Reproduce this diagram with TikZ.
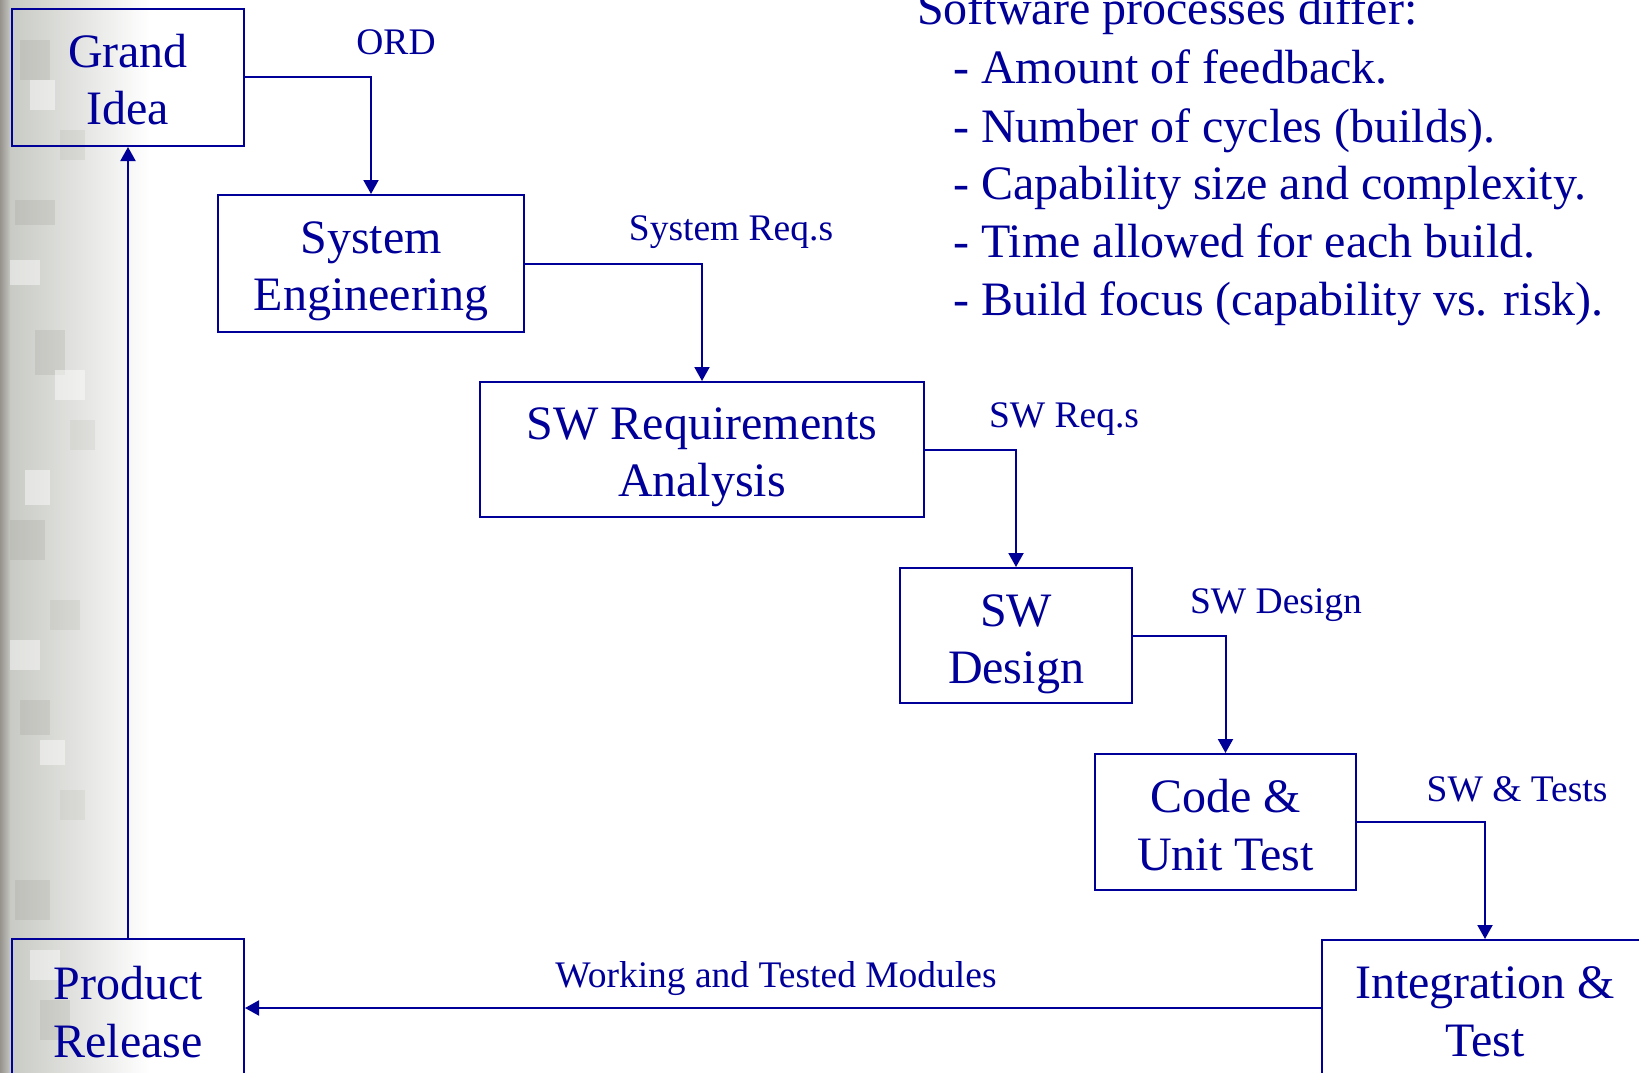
\documentclass[tikz,border=0pt]{standalone}
\usepackage{fontspec}
\setmainfont{Liberation Serif}
\usetikzlibrary{arrows.meta}
\definecolor{navy}{RGB}{0,0,153}
\definecolor{camoA}{RGB}{196,198,192}
\definecolor{camoB}{RGB}{150,146,140}
\tikzset{
  x=1pt, y=-1pt,
  boxshape/.style={draw=navy, line width=2pt, rectangle, inner sep=0pt},
  boxtext/.style={text=navy, align=center, inner sep=0pt, font=\fontsize{48}{57.5}\selectfont},
  lbl/.style={text=navy, inner sep=0pt, font=\fontsize{37.5}{40}\selectfont},
  itm/.style={text=navy, inner sep=0pt, anchor=base west, font=\fontsize{48}{58}\selectfont},
  flow/.style={draw=navy, line width=2pt, -{Triangle[length=14pt,width=15pt]}}
}
\begin{document}
\begin{tikzpicture}
\useasboundingbox (0,0) rectangle (1639,1073);
\fill[white] (0,0) rectangle (1639,1073);
% left camouflage strip
\shade[left color=camoA, right color=white] (0,0) rectangle (150,1073);
\shade[left color=camoB, right color=camoA] (0,0) rectangle (10,1073);
\foreach \xa/\ya/\w/\h/\o in {20/40/30/40/0.2, 60/130/25/30/0.15, 15/200/40/25/0.2, 35/330/30/45/0.2, 70/420/25/30/0.12,
  10/520/35/40/0.2, 50/600/30/30/0.15, 20/700/30/35/0.2, 60/790/25/30/0.12, 15/880/35/40/0.2, 40/1000/30/40/0.2}
  \fill[camoB, opacity=\o] (\xa,\ya) rectangle ++(\w,\h);
\foreach \xa/\ya/\w/\h in {30/80/25/30, 10/260/30/25, 55/370/30/30, 25/470/25/35, 10/640/30/30, 40/740/25/25, 30/950/30/30}
  \fill[white, opacity=0.45] (\xa,\ya) rectangle ++(\w,\h);

% boxes
\node[boxshape, minimum width=232pt, minimum height=137pt] (GI) at (128,77.5) {};
\node[boxshape, minimum width=306pt, minimum height=137pt] (SE) at (371,263.5) {};
\node[boxshape, minimum width=444pt, minimum height=135pt] (SR) at (702,449.5) {};
\node[boxshape, minimum width=232pt, minimum height=135pt] (SD) at (1016,635.5) {};
\node[boxshape, minimum width=261pt, minimum height=136pt] (CU) at (1225.5,822) {};
\node[boxshape, minimum width=326pt, minimum height=136pt] (IT) at (1485,1008) {};
\node[boxshape, minimum width=232pt, minimum height=138pt] (PR) at (128,1008) {};

\node[boxtext] (GIt) at ([yshift=-2pt]GI.center) {Grand\\Idea};
\node[boxtext] (SEt) at ([yshift=-8pt]SE.center) {System\\Engineering};
\node[boxtext] (SRt) at ([yshift=-8pt]SR.center) {SW Requirements\\Analysis};
\node[boxtext] (SDt) at ([yshift=-9pt]SD.center) {SW\\Design};
\node[boxtext] (CUt) at ([yshift=-3pt]CU.center) {Code \&\\Unit Test};
\node[boxtext] (ITt) at ([yshift=-4pt]IT.center) {Integration \&\\Test};
\node[boxtext] (PRt) at ([yshift=-4pt]PR.center) {Product\\Release};

% connectors
\draw[flow] (GI.east) -| (SE.north);
\draw[flow] (SE.east) -| (SR.north);
\draw[flow] (SR.east) -| (SD.north);
\draw[flow] (SD.east) -| (CU.north);
\draw[flow] (CU.east) -| (IT.north);
\draw[flow] (IT.west) -- (PR.east);
\draw[flow] (PR.north) -- (GI.south);

% labels
\node[lbl] (lORD) at (396,42) {ORD};
\node[lbl] (lSR) at (731,232) {System Req.s};
\node[lbl] (lSWR) at (1064,419) {SW Req.s};
\node[lbl] (lSD) at (1276,605) {SW Design};
\node[lbl] (lST) at (1517,789) {SW \& Tests};
\node[lbl] (lWM) at (776,979) {Working and Tested Modules};

% text list
\node[itm] (t0) at (917,25) {Software processes differ:};
\node[itm] (t1) at (953,84) {- Amount of feedback.};
\node[itm] (t2) at (953,142) {- Number of cycles (builds).};
\node[itm] (t3) at (953,199) {- Capability size and complexity.};
\node[itm] (t4) at (953,257) {- Time allowed for each build.};
\node[itm] (t5) at (953,315) {- Build focus (capability vs. risk).};
\end{tikzpicture}
\end{document}
